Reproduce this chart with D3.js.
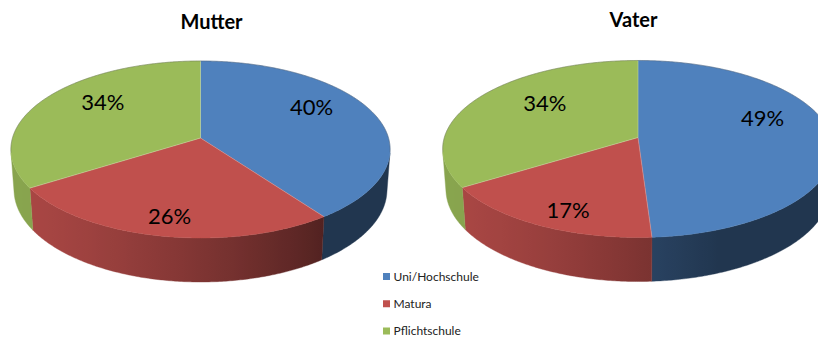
<!DOCTYPE html>
<html>
<head>
<meta charset="utf-8">
<script src="https://cdn.jsdelivr.net/npm/d3@7"></script>
<style>
  html, body { margin: 0; padding: 0; background: #fff; }
  svg { display: block; font-family: Lato, "Open Sans", sans-serif; }
</style>
</head>
<body>
<svg id="chart" width="818" height="338"></svg>
<script>
// Bildungsabschluss der Eltern, in Prozent
const categories = ["Uni/Hochschule", "Matura", "Pflichtschule"];
const mutterValues = [40, 26, 34];
const vaterValues = [49, 17, 34];
const chartTitles = ["Mutter", "Vater"];
const sliceColors = ["#4F81BD", "#C0504D", "#9BBB59"];

const svg = d3.select("#chart");
svg.append("rect").attr("width", 818).attr("height", 338).attr("fill", "#fff");
const defs = svg.append("defs");

// perspective camera for the tilted disc (unit radius)
const tilt = 27.57 * Math.PI / 180;
const camDist = 6.822;
const focal = 1282.6;
const thickness = 0.244;
const sinT = Math.sin(tilt), cosT = Math.cos(tilt);

function makeProjector(cx, cy, stretchX) {
  return function (a, r, z) {
    const x = r * Math.sin(a), y = r * Math.cos(a);
    const v = y * sinT + z * cosT;
    const w = y * cosT - z * sinT;
    const k = focal / (camDist + w);
    return [cx + x * k * stretchX, cy - v * k];
  };
}

// side wall faces the camera where cos(a) < -1/(D cos t)
const wallLimit = Math.acos(-1 / (camDist * cosT));
const wallMin = wallLimit, wallMax = 2 * Math.PI - wallLimit;

// lighting of the side wall by its facing angle; blue walls read darker
const lightAngle = 245 * Math.PI / 180;
const wallStrength = [0.8, 1, 1];
function wallShade(a, i) {
  return Math.max(0.42, wallStrength[i] * (0.5 + 0.38 * Math.cos(a - lightAngle)));
}
function shadeColor(hex, f) {
  const c = d3.rgb(hex);
  return d3.rgb(c.r * f, c.g * f, c.b * f).formatHex();
}

const pie = d3.pie().sort(null).value(d => d).startAngle(0).endAngle(2 * Math.PI);

const charts = [
  { title: chartTitles[0], values: mutterValues, cx: 200.5, cy: 138, stretchX: 1.0,
    titleX: 211.5, titleY: 29,
    labelRadius: [0.637, 0.79, 0.615], labelShift: [-14, 3, -11.5] },
  { title: chartTitles[1], values: vaterValues, cx: 638, cy: 137.5, stretchX: 1.03,
    titleX: 633.5, titleY: 27,
    labelRadius: [0.645, 0.729, 0.568], labelShift: [-17.7, 10.8, -11.2] }
];

const line = d3.line();

charts.forEach((ch, ci) => {
  const P = makeProjector(ch.cx, ch.cy, ch.stretchX);
  const arcs = pie(ch.values);
  const g = svg.append("g");

  // side walls
  arcs.forEach((d, i) => {
    const a0 = Math.max(d.startAngle, wallMin);
    const a1 = Math.min(d.endAngle, wallMax);
    if (a1 <= a0) return;
    const n = Math.max(4, Math.ceil((a1 - a0) / 0.01));
    const angles = d3.range(n + 1).map(j => a0 + (a1 - a0) * j / n);
    const top = angles.map(a => P(a, 1, 0));
    const bottom = angles.map(a => P(a, 1, -thickness)).reverse();
    const xs = top.map(p => p[0]);
    const xMin = d3.min(xs), xMax = d3.max(xs);
    const gid = `wall-${ci}-${i}`;
    const grad = defs.append("linearGradient")
      .attr("id", gid).attr("gradientUnits", "userSpaceOnUse")
      .attr("x1", xMin).attr("x2", xMax).attr("y1", 0).attr("y2", 0);
    const stops = angles.filter((_, j) => j % 4 === 0 || j === n)
      .map(a => ({ off: (P(a, 1, 0)[0] - xMin) / (xMax - xMin || 1), col: shadeColor(sliceColors[i], wallShade(a, i)) }))
      .sort((p, q) => p.off - q.off);
    grad.selectAll("stop").data(stops).join("stop")
      .attr("offset", s => s.off).attr("stop-color", s => s.col);
    g.append("path")
      .attr("d", line(top.concat(bottom)) + "Z")
      .attr("fill", `url(#${gid})`)
      .attr("stroke", `url(#${gid})`).attr("stroke-width", 0.4);
  });

  // top face
  arcs.forEach((d, i) => {
    const n = Math.max(8, Math.ceil((d.endAngle - d.startAngle) / 0.01));
    const pts = [P(0, 0, 0)].concat(d3.range(n + 1).map(j =>
      P(d.startAngle + (d.endAngle - d.startAngle) * j / n, 1, 0)));
    g.append("path")
      .attr("d", line(pts) + "Z")
      .attr("fill", sliceColors[i])
      .attr("stroke", sliceColors[i]).attr("stroke-width", 0.4);
  });
  // faint highlight along slice seams
  arcs.forEach(d => {
    g.append("path")
      .attr("d", line([P(0, 0, 0), P(d.startAngle, 1, 0)]))
      .attr("stroke", "rgba(255,255,255,0.35)").attr("stroke-width", 0.7).attr("fill", "none");
  });
  // thin rim outline on the far edge
  const backRim = d3.range(-wallLimit, wallLimit + 0.0001, 0.01).map(a => P(a, 1, 0));
  g.append("path").attr("d", line(backRim))
    .attr("fill", "none").attr("stroke", "rgba(90,90,90,0.45)").attr("stroke-width", 0.8);

  // percentage labels
  arcs.forEach((d, i) => {
    const mid = (d.startAngle + d.endAngle) / 2;
    const p = P(mid, ch.labelRadius[i], 0);
    g.append("text")
      .attr("x", p[0]).attr("y", p[1] + ch.labelShift[i] + 8)
      .attr("text-anchor", "middle")
      .attr("font-size", 22).attr("fill", "#000")
      .text(d.data + "%");
  });

  // title
  svg.append("text")
    .attr("x", ch.titleX).attr("y", ch.titleY)
    .attr("text-anchor", "middle")
    .attr("font-size", 20).attr("font-weight", "bold").attr("fill", "#000")
    .text(ch.title);
});

// legend
const legendY = d3.scalePoint().domain(categories).range([276.5, 331]);
const legend = svg.append("g");
categories.forEach((c, i) => {
  legend.append("rect")
    .attr("x", 383).attr("y", legendY(c) - 3.5).attr("width", 7).attr("height", 7)
    .attr("fill", sliceColors[i]);
  legend.append("text")
    .attr("x", 393.5).attr("y", legendY(c) + 4.3)
    .attr("font-size", 12).attr("fill", "#222")
    .text(c);
});
</script>
</body>
</html>
